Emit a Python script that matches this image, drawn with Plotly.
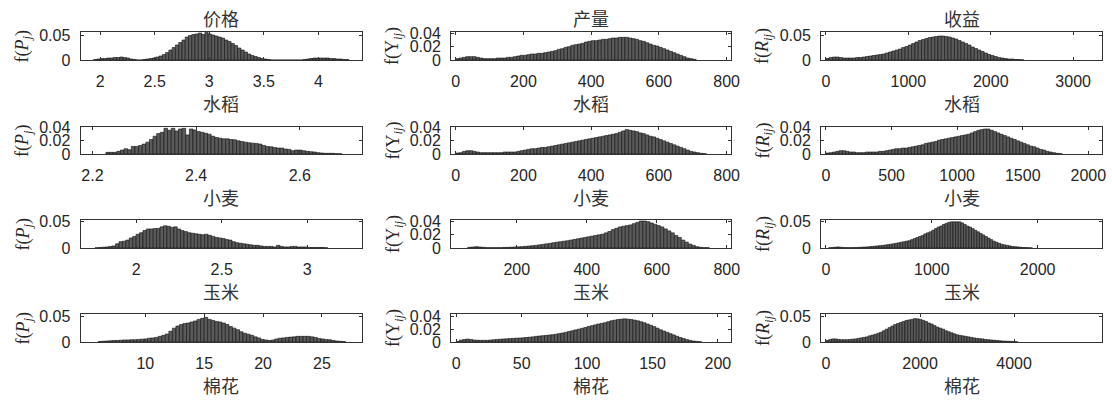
import plotly.graph_objects as go

# ---------------- data (histogram bin heights) ----------------
col_titles = ["价格", "产量", "收益"]
crop_labels = ["水稻", "小麦", "玉米", "棉花"]
y_labels = ["f(<i>P<sub>j</sub></i>)", "f(Y<sub><i>ij</i></sub>)", "f(<i>R<sub>ij</sub></i>)"]

# row 1 : 水稻
price_rice_c0, price_rice_dx = 1.955, 0.03
price_rice = [0.001,0.002,0.003,0.003,0.004,0.004,0.005,0.005,0.006,0.005,
              0.004,0.002,0.001,0,0,0.001,0.002,0.003,0.004,0.006,
              0.008,0.011,0.015,0.020,0.025,0.030,0.035,0.040,0.046,0.049,
              0.051,0.052,0.054,0.051,0.055,0.052,0.050,0.048,0.046,0.044,
              0.040,0.037,0.033,0.029,0.024,0.020,0.016,0.012,0.009,0.007,
              0.005,0.003,0.002,0.001,0,0,0,0,0,0,
              0,0,0,0,0.001,0.002,0.003,0.004,0.004,0.004,
              0.004,0.004,0.003,0.003,0.002,0.002,0.001,0.001]
yield_rice_c0, yield_rice_dx = 5, 10
yield_rice = [0.002,0.003,0.004,0.005,0.005,0.005,0.004,0.003,0.002,0.002,
              0.002,0.002,0.003,0.003,0.003,0.004,0.004,0.005,0.006,0.007,
              0.007,0.008,0.009,0.009,0.010,0.010,0.011,0.012,0.013,0.014,
              0.016,0.017,0.019,0.020,0.022,0.023,0.024,0.025,0.027,0.028,
              0.029,0.029,0.030,0.031,0.031,0.032,0.033,0.033,0.034,0.034,
              0.034,0.033,0.032,0.031,0.029,0.028,0.026,0.024,0.022,0.021,
              0.019,0.017,0.015,0.013,0.011,0.009,0.007,0.005,0.003,0.002,
              0.001]
rev_rice_c0, rev_rice_dx = 20, 40
rev_rice = [0.003,0.005,0.006,0.006,0.005,0.004,0.004,0.004,0.004,0.005,
            0.005,0.006,0.007,0.008,0.009,0.010,0.011,0.012,0.014,0.016,
            0.018,0.020,0.022,0.025,0.027,0.030,0.033,0.036,0.039,0.041,
            0.043,0.045,0.046,0.047,0.048,0.048,0.047,0.046,0.044,0.042,
            0.039,0.036,0.033,0.030,0.026,0.023,0.020,0.017,0.014,0.011,
            0.009,0.007,0.005,0.004,0.003,0.002,0.002,0.001,0.001,0.0005]

# row 2 : 小麦
price_wheat_c0, price_wheat_dx = 2.2295, 0.007
price_wheat = [0.0025,0.0025,0.0025,0.004,0.006,0.008,0.0065,0.0115,0.0115,0.013,
               0.015,0.018,0.022,0.027,0.031,0.033,0.039,0.036,0.039,0.035,
               0.038,0.039,0.029,0.038,0.0365,0.034,0.033,0.0315,0.030,0.027,
               0.025,0.024,0.023,0.023,0.022,0.0215,0.020,0.019,0.018,0.017,
               0.0165,0.016,0.015,0.013,0.0115,0.011,0.010,0.009,0.009,0.0075,
               0.007,0.005,0.006,0.006,0.005,0.004,0.0035,0.003,0.002,0.0015,
               0.001,0.001,0.001,0.0005,0.0005]
yield_wheat_c0, yield_wheat_dx = 5, 10
yield_wheat = [0.0015,0.002,0.004,0.005,0.005,0.004,0.003,0.002,0.002,0.002,
               0.002,0.002,0.002,0.002,0.003,0.003,0.003,0.003,0.004,0.005,
               0.006,0.007,0.008,0.008,0.009,0.010,0.010,0.011,0.012,0.013,
               0.014,0.015,0.016,0.017,0.018,0.019,0.020,0.021,0.022,0.023,
               0.024,0.025,0.026,0.027,0.028,0.029,0.030,0.031,0.033,0.035,
               0.037,0.036,0.035,0.034,0.032,0.031,0.029,0.027,0.026,0.024,
               0.022,0.020,0.018,0.016,0.014,0.012,0.010,0.008,0.006,0.004,
               0.003,0.002,0.001,0.0005]
rev_wheat_c0, rev_wheat_dx = 12.5, 25
rev_wheat = [0.0015,0.002,0.003,0.004,0.005,0.005,0.004,0.003,0.003,0.002,
             0.002,0.002,0.003,0.003,0.003,0.003,0.004,0.004,0.005,0.006,
             0.007,0.008,0.008,0.009,0.009,0.010,0.011,0.012,0.013,0.014,
             0.016,0.017,0.018,0.019,0.021,0.022,0.023,0.024,0.025,0.026,
             0.027,0.028,0.029,0.030,0.032,0.034,0.036,0.037,0.038,0.038,
             0.036,0.034,0.032,0.030,0.028,0.026,0.024,0.022,0.020,0.018,
             0.016,0.014,0.012,0.011,0.009,0.007,0.006,0.004,0.003,0.002,
             0.001,0.0005]

# row 3 : 玉米
price_corn_c0, price_corn_dx = 1.77, 0.02
price_corn = [0.0005,0.001,0.0015,0.002,0.003,0.004,0.008,0.012,0.013,0.015,
              0.019,0.022,0.026,0.029,0.033,0.036,0.036,0.037,0.037,0.040,
              0.042,0.041,0.039,0.040,0.036,0.033,0.031,0.029,0.028,0.027,
              0.026,0.025,0.026,0.024,0.022,0.020,0.019,0.018,0.016,0.015,
              0.012,0.010,0.009,0.008,0.007,0.006,0.005,0.005,0.004,0.003,
              0.003,0.003,0.002,0.005,0.003,0.002,0.002,0.003,0.003,0.002,
              0.002,0.002,0.001,0.001,0.001,0.001,0.001,0.0005]
yield_corn_c0, yield_corn_dx = 65, 10
yield_corn = [0.001,0.0015,0.002,0.0015,0.001,0.0005,0.0005,0.0005,0.0005,0.0005,
              0.0008,0.001,0.0012,0.0015,0.0018,0.002,0.0025,0.003,0.0035,0.004,
              0.0048,0.0055,0.0063,0.007,0.008,0.0088,0.0095,0.0103,0.011,0.012,
              0.013,0.014,0.015,0.016,0.017,0.018,0.019,0.020,0.021,0.023,
              0.025,0.028,0.030,0.032,0.033,0.034,0.035,0.037,0.039,0.041,
              0.041,0.040,0.038,0.036,0.034,0.032,0.029,0.026,0.023,0.019,
              0.016,0.012,0.009,0.006,0.004,0.002,0.001,0.0005,0.0005]
rev_corn_c0, rev_corn_dx = 37.5, 25
rev_corn = [0.0005,0.001,0.0015,0.002,0.0015,0.001,0.0007,0.0007,0.0007,0.0008,
            0.001,0.0012,0.0015,0.0018,0.002,0.0025,0.003,0.0035,0.004,0.0045,
            0.005,0.0058,0.0065,0.0072,0.008,0.009,0.010,0.011,0.012,0.013,
            0.014,0.016,0.018,0.020,0.022,0.024,0.027,0.029,0.031,0.034,
            0.037,0.040,0.042,0.045,0.047,0.049,0.050,0.050,0.050,0.050,
            0.048,0.045,0.042,0.040,0.037,0.034,0.031,0.028,0.025,0.022,
            0.019,0.016,0.013,0.011,0.009,0.007,0.006,0.005,0.004,0.003,
            0.0025,0.002,0.0015,0.001,0.0008,0.0005,0.0003]

# row 4 : 棉花
price_cotton_c0, price_cotton_dx = 6.15, 0.3
price_cotton = [0.001,0.0015,0.002,0.0025,0.003,0.003,0.0035,0.004,0.004,0.0045,
                0.0045,0.005,0.0055,0.006,0.0075,0.008,0.009,0.011,0.013,0.0155,
                0.021,0.027,0.031,0.034,0.036,0.037,0.039,0.041,0.044,0.046,
                0.048,0.044,0.042,0.040,0.039,0.037,0.034,0.030,0.027,0.024,
                0.020,0.017,0.015,0.013,0.010,0.008,0.005,0.004,0.003,0.004,
                0.006,0.0075,0.008,0.009,0.0095,0.010,0.011,0.011,0.011,0.011,
                0.010,0.009,0.007,0.006,0.005,0.0045,0.003,0.002,0.0013,0.0008]
yield_cotton_c0, yield_cotton_dx = 1.25, 2.5
yield_cotton = [0.001,0.003,0.004,0.0045,0.004,0.003,0.0028,0.0026,0.0026,0.0026,
                0.003,0.0035,0.004,0.0043,0.0047,0.005,0.0053,0.0056,0.006,0.0062,
                0.0066,0.007,0.0075,0.008,0.0088,0.0093,0.0098,0.0103,0.0108,0.0114,
                0.012,0.013,0.014,0.015,0.0163,0.0175,0.0188,0.020,0.0213,0.0225,
                0.024,0.0253,0.0266,0.028,0.029,0.030,0.0315,0.033,0.034,0.035,
                0.0355,0.036,0.0355,0.035,0.034,0.033,0.0315,0.030,0.028,0.026,
                0.024,0.0215,0.019,0.017,0.015,0.013,0.011,0.009,0.007,0.0055,
                0.0038,0.0025,0.0015,0.001,0.0005]
rev_cotton_c0, rev_cotton_dx = 30, 60
rev_cotton = [0.003,0.005,0.006,0.006,0.005,0.0045,0.0045,0.0045,0.005,0.0055,
              0.006,0.007,0.008,0.009,0.010,0.012,0.0135,0.015,0.017,0.019,
              0.022,0.025,0.028,0.031,0.034,0.036,0.038,0.040,0.042,0.043,
              0.044,0.0455,0.045,0.044,0.042,0.040,0.037,0.035,0.032,0.029,
              0.027,0.025,0.022,0.020,0.018,0.016,0.014,0.013,0.012,0.011,
              0.010,0.009,0.008,0.007,0.0065,0.006,0.005,0.0045,0.004,0.0035,
              0.003,0.0025,0.002,0.0018,0.0015,0.0012,0.001,0.0005]

# tick values per panel
xt_price = [[2, 2.5, 3, 3.5, 4], [2.2, 2.4, 2.6], [2, 2.5, 3], [10, 15, 20, 25]]
xt_yield = [[0, 200, 400, 600, 800], [0, 200, 400, 600, 800], [200, 400, 600, 800], [0, 50, 100, 150, 200]]
xt_rev = [[0, 1000, 2000, 3000], [0, 500, 1000, 1500, 2000], [0, 1000, 2000], [0, 2000, 4000]]
yt_a = [0, 0.05]
yt_b = [0, 0.02, 0.04]

# ---------------- panels ----------------
panels = [
    # row, col, values, first-center, width, xrange, yrange, xticks, yticks
    (0, 0, price_rice, price_rice_c0, price_rice_dx, [1.82, 4.40], [0, 0.056], xt_price[0], yt_a),
    (0, 1, yield_rice, yield_rice_c0, yield_rice_dx, [-14, 813], [0, 0.042], xt_yield[0], yt_b),
    (0, 2, rev_rice, rev_rice_c0, rev_rice_dx, [-60, 3350], [0, 0.056], xt_rev[0], yt_a),
    (1, 0, price_wheat, price_wheat_c0, price_wheat_dx, [2.177, 2.72], [0, 0.041], xt_price[1], yt_b),
    (1, 1, yield_wheat, yield_wheat_c0, yield_wheat_dx, [-14, 813], [0, 0.041], xt_yield[1], yt_b),
    (1, 2, rev_wheat, rev_wheat_c0, rev_wheat_dx, [-38, 2104], [0, 0.041], xt_rev[1], yt_b),
    (2, 0, price_corn, price_corn_c0, price_corn_dx, [1.675, 3.32], [0, 0.053], xt_price[2], yt_a),
    (2, 1, yield_corn, yield_corn_c0, yield_corn_dx, [12, 812], [0, 0.0425], xt_yield[2], yt_b),
    (2, 2, rev_corn, rev_corn_c0, rev_corn_dx, [-47, 2608], [0, 0.0535], xt_rev[2], yt_a),
    (3, 0, price_cotton, price_cotton_c0, price_cotton_dx, [4.5, 28.4], [0, 0.0545], xt_price[3], yt_a),
    (3, 1, yield_cotton, yield_cotton_c0, yield_cotton_dx, [-4, 210], [0, 0.0435], xt_yield[3], yt_b),
    (3, 2, rev_cotton, rev_cotton_c0, rev_cotton_dx, [-106, 5870], [0, 0.0545], xt_rev[3], yt_a),
]

W, H = 1112, 403
col_px = [(80.5, 362), (451, 731), (821, 1102)]
row_px = [(32, 60), (127, 154), (220, 248), (314, 342)]

def fmt(v):
    return "%g" % v

TXT = "#262626"
tickfont = dict(family="Liberation Sans, Arial, sans-serif", size=16, color=TXT)

fig = go.Figure()
layout = dict(template="none", width=W, height=H, margin=dict(l=0, r=0, t=0, b=0, pad=0),
              paper_bgcolor="white", plot_bgcolor="white", showlegend=False,
              bargap=0, annotations=[])

for k, (r, c, vals, c0, dx, xr, yr, xt, yt) in enumerate(panels):
    n = "" if k == 0 else str(k + 1)
    fig.add_trace(go.Bar(y=vals, x0=c0, dx=dx, width=dx,
                         marker=dict(color="#5a5a5a", line=dict(color="#111111", width=0.6)),
                         xaxis="x" + n, yaxis="y" + n, hoverinfo="skip"))
    x0p, x1p = col_px[c]
    y0p, y1p = row_px[r]
    common = dict(showline=True, linecolor="#333333", linewidth=1, mirror="ticks",
                  ticks="inside", ticklen=3, tickcolor="#333333", showgrid=False,
                  zeroline=False, tickfont=tickfont, fixedrange=True, automargin=False)
    layout["xaxis" + n] = dict(domain=[x0p / W, x1p / W], range=xr, anchor="y" + n,
                               tickvals=xt, ticktext=[fmt(v) for v in xt],
                               ticklabelstandoff=7, **common)
    layout["yaxis" + n] = dict(domain=[1 - y1p / H, 1 - y0p / H], range=yr, anchor="x" + n,
                               tickvals=yt, ticktext=[fmt(v) for v in yt],
                               ticklabelstandoff=6, **common)

cjk = dict(family="Noto Sans CJK SC", size=18, color="#333333")
serif = dict(family="Liberation Serif, DejaVu Serif, serif", size=18, color=TXT)

for c in range(3):
    cx = (col_px[c][0] + col_px[c][1]) / 2 / W
    layout["annotations"].append(dict(text=col_titles[c], x=cx, y=1 - 18 / H, xref="paper", yref="paper",
                                      showarrow=False, font=cjk, xanchor="center", yanchor="middle"))
    for r in range(4):
        ly = row_px[r][1] + 43
        layout["annotations"].append(dict(text=crop_labels[r], x=cx, y=1 - ly / H, xref="paper", yref="paper",
                                          showarrow=False, font=cjk, xanchor="center", yanchor="middle"))
        ymid = (row_px[r][0] + row_px[r][1]) / 2
        lx = col_px[c][0] - 57
        layout["annotations"].append(dict(text=y_labels[c], x=lx / W, y=1 - ymid / H, xref="paper", yref="paper",
                                          showarrow=False, font=serif, textangle=-90,
                                          xanchor="center", yanchor="middle"))

fig.update_layout(**layout)
fig.write_html("out.html", post_script="document.body.style.margin='0';",
               config={"displayModeBar": False, "staticPlot": True})
